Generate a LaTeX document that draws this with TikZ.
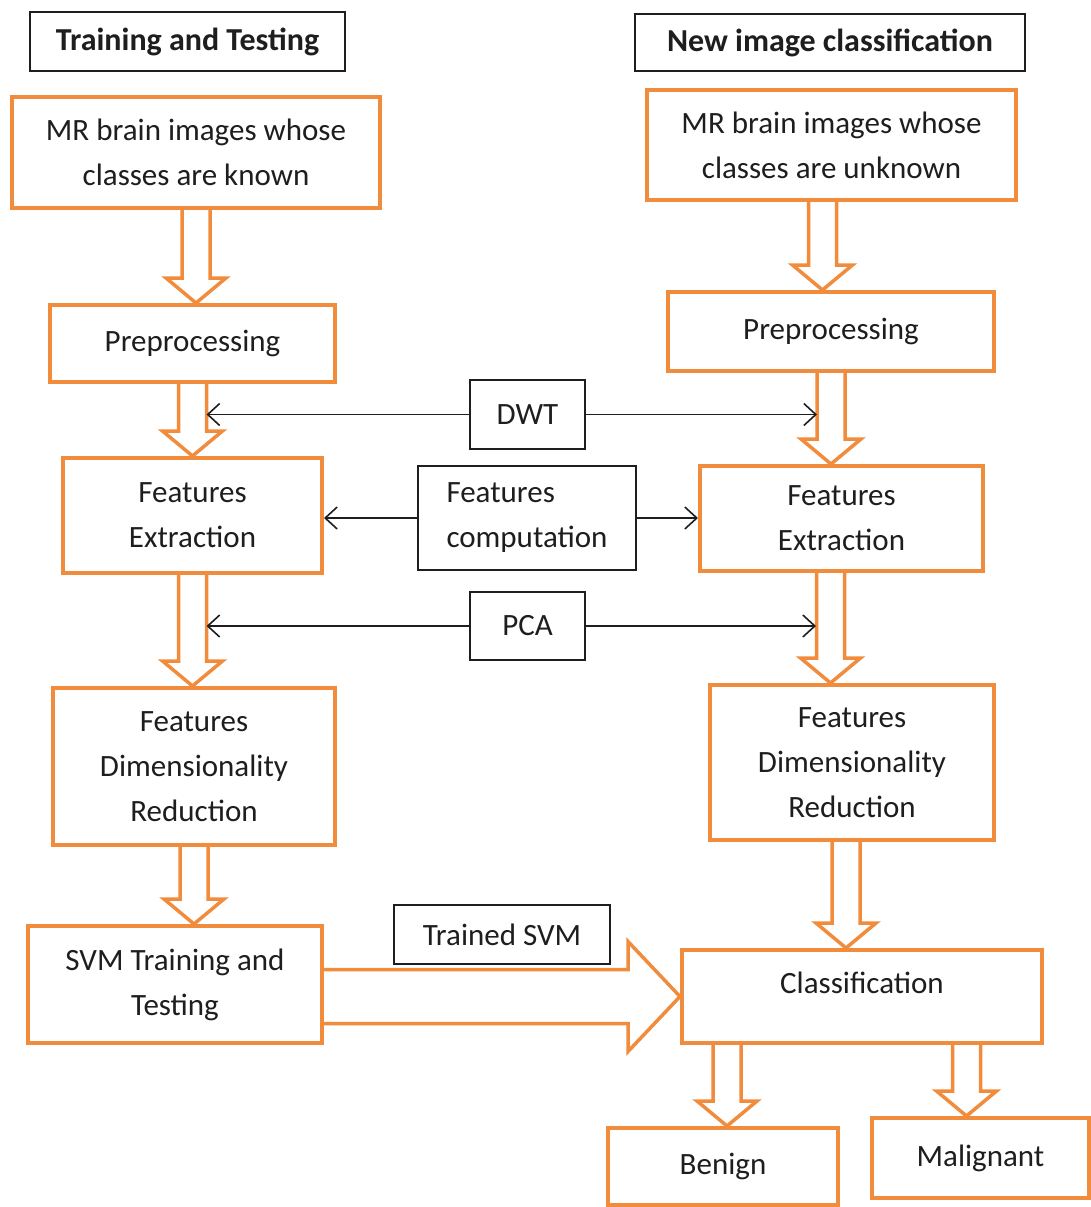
\documentclass[tikz,border=0pt]{standalone}
\usepackage{fontspec}
\setmainfont{Carlito}
\usetikzlibrary{calc,arrows.meta}
\definecolor{boxorange}{RGB}{240,140,60}
\definecolor{inkgray}{RGB}{30,30,30}

\begin{document}
\begin{tikzpicture}[x=1pt,y=-1pt,
    orange_box/.style={
        draw=boxorange, line width=4pt, align=center, text=inkgray,
        font=\fontsize{31}{45}\selectfont,
    },
    black_box/.style={
        draw=inkgray, line width=2pt, align=center, text=inkgray,
        font=\fontsize{31}{45}\selectfont,
    },
    head_box/.style={
        black_box, font=\fontsize{32}{45}\selectfont\bfseries,
    },
    thin_arrow/.style={
        -{Straight Barb[length=12pt,width=22pt]}, line width=1.6pt, draw=inkgray,
    },
    hollow_down/.style={
        draw=boxorange, line width=3.5pt,
        to path={($(\tikztostart)+(-14,0)$) -- ($(\tikztostart |- \tikztotarget)+(-14,-25)$)
            -- ++(-16,0) -- (\tikztostart |- \tikztotarget) -- ++(30,-25) -- ++(-16,0)
            -- ($(\tikztostart)+(14,0)$)}
    },
    hollow_right/.style={
        draw=boxorange, line width=3.5pt,
        to path={($(\tikztostart)+(0,-27)$) -- ($(\tikztostart -| \tikztotarget)+(-52,-27)$)
            -- ++(0,-28) -- (\tikztostart -| \tikztotarget) -- ++(-52,55) -- ++(0,-28)
            -- ($(\tikztostart)+(0,27)$)}
    }
]
    \path[fill=white,use as bounding box] (0,0) rectangle (1091,1207);

    % headings
    \node[head_box,minimum width=315,minimum height=59] at (187.5,41.5) (head_l) {Training and Testing};
    \node[head_box,minimum width=390,minimum height=57] at (830,42.5) (head_r) {New image classification};

    % training column
    \node[orange_box,minimum width=368,minimum height=111] at (196,152.5) (L1) {MR brain images whose\\classes are known};
    \node[orange_box,minimum width=285,minimum height=77] at (192.5,343.5) (L2) {Preprocessing};
    \node[orange_box,minimum width=259,minimum height=115] at (192.5,515.5) (L3) {Features\\Extraction};
    \node[orange_box,minimum width=282,minimum height=157] at (194,766.5) (L4) {Features\\Dimensionality\\Reduction};
    \node[orange_box,minimum width=294,minimum height=117] at (175,984.5) (L5) {SVM Training and\\Testing};

    % classification column
    \node[orange_box,minimum width=369,minimum height=110] at (831.5,145) (R1) {MR brain images whose\\classes are unknown};
    \node[orange_box,minimum width=326,minimum height=79] at (831,331.5) (R2) {Preprocessing};
    \node[orange_box,minimum width=283,minimum height=105] at (841.5,518.5) (R3) {Features\\Extraction};
    \node[orange_box,minimum width=284,minimum height=155] at (852,762.5) (R4) {Features\\Dimensionality\\Reduction};
    \node[orange_box,minimum width=360,minimum height=93,text depth=28pt] at (862,996.5) (R5) {Classification};
    \node[orange_box,minimum width=230,minimum height=77] at (723,1166.5) (ben) {Benign};
    \node[orange_box,minimum width=217,minimum height=80] at (980.5,1158) (mal) {Malignant};

    % shared steps
    \node[black_box,minimum width=115,minimum height=69] at (527.5,414.5) (dwt) {DWT};
    \node[black_box,minimum width=218,minimum height=104,align=left] at (527,518) (comp) {Features\\computation};
    \node[black_box,minimum width=115,minimum height=68] at (527.5,626) (pca) {PCA};
    \node[black_box,minimum width=216,minimum height=59] at (502,934.5) (svm) {Trained SVM};

    % hollow arrows
    \draw[hollow_down] (L1.south) to (L2.north);
    \draw[hollow_down] (L2.south) to (L3.north);
    \draw[hollow_down] (L3.south) to (L4.north);
    \draw[hollow_down] (L4.south) to (L5.north);
    \draw[hollow_down] ([xshift=-9pt]R1.south) to (R2.north);
    \draw[hollow_down] (R2.south) to (R3.north);
    \draw[hollow_down] ([xshift=-11pt]R3.south) to (R4.north);
    \draw[hollow_down] ([xshift=-6pt]R4.south) to (R5.north);
    \coordinate (ben_top) at ([xshift=4pt]ben.north);
    \coordinate (mal_top) at ([xshift=-14pt]mal.north);
    \draw[hollow_down] (R5.south -| ben_top) to (ben_top);
    \draw[hollow_down] (R5.south -| mal_top) to (mal_top);
    \draw[hollow_right] (L5.east |- R5.west) to (R5.west);

    % thin arrows
    \coordinate (shaft_l) at (206.5,0);
    \coordinate (shaft_r) at (817,0);
    \coordinate (shaft_r2) at (816,0);
    \draw[thin_arrow] (dwt.west) -- (dwt.west -| shaft_l);
    \draw[thin_arrow] (dwt.east) -- (dwt.east -| shaft_r);
    \draw[thin_arrow] (comp.west) -- (comp.west -| L3.east);
    \draw[thin_arrow] (comp.east) -- (comp.east -| R3.west);
    \draw[thin_arrow] (pca.west) -- (pca.west -| shaft_l);
    \draw[thin_arrow] (pca.east) -- (pca.east -| shaft_r2);
\end{tikzpicture}
\end{document}
